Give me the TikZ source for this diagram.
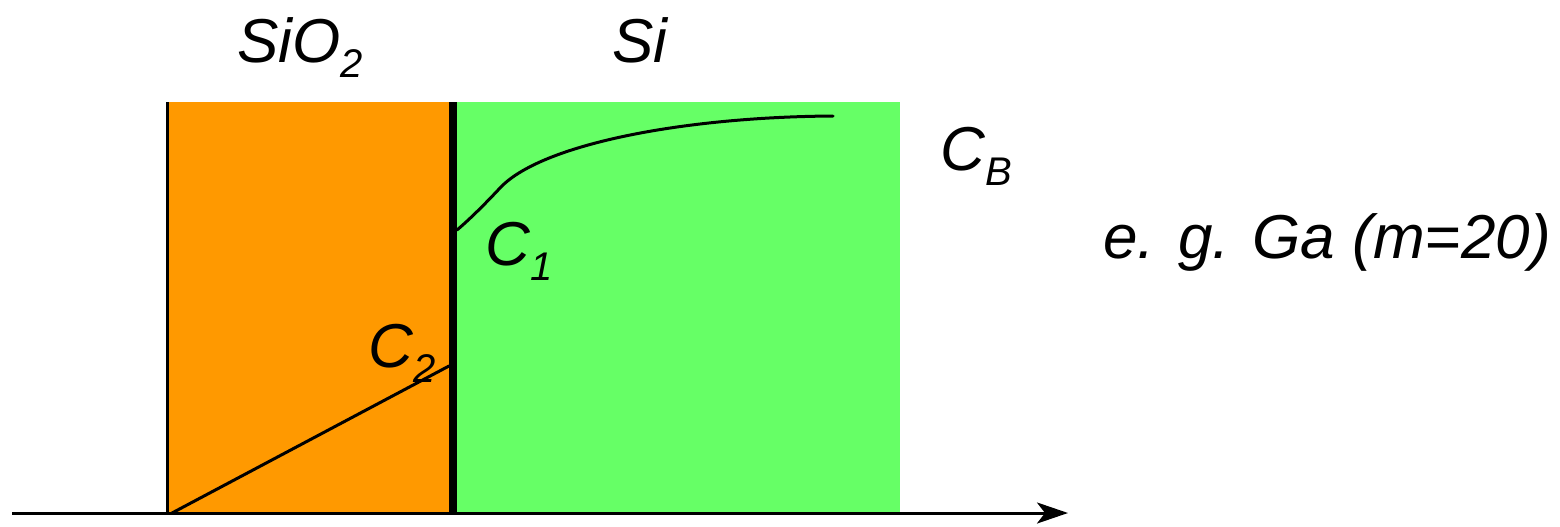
\documentclass[tikz,border=0pt]{standalone}
\usepackage{fontspec}
\setmainfont{Liberation Sans}
\usetikzlibrary{arrows.meta}
\definecolor{oxide}{HTML}{FF9900}
\definecolor{silicon}{HTML}{66FF66}
\newcommand{\mysub}[1]{\raisebox{-7.5pt}{\fontsize{20}{20}\selectfont #1}}
\tikzset{
  lbl/.style={anchor=base west, inner sep=0pt, font=\fontsize{31}{31}\selectfont\itshape},
  thin line/.style={line width=1.5pt, black},
  curve/.style={line width=1.5pt, black, line cap=round},
}
\begin{document}
\begin{tikzpicture}[x=0.5pt,y=-0.5pt]
\useasboundingbox (0,0) rectangle (1560,526);
% regions
\fill[oxide] (167,102) rectangle (449,513);
\fill[silicon] (457,102) rectangle (900,513);
\draw[thin line] (167,102) -- (167,513);
\fill[black] (449,102) rectangle (457,513);
% coordinates
\coordinate (axL) at (12,513);
\coordinate (axR) at (1068,513);
\coordinate (d0) at (172,513);
\coordinate (d1) at (449,366);
\coordinate (c0) at (457,230);
\coordinate (c1) at (500,188);
\coordinate (c2) at (833,116);
% axis
\draw[line width=1.5pt, -{Stealth[length=15.5pt,width=10.5pt,inset=4pt]}] (axL) -- (axR);
% profiles
\draw[curve] (d0) -- (d1);
\draw[curve] (c0) .. controls (470,219) and (485,204) .. (c1) .. controls (540,145) and (680,117) .. (c2);
% labels
\node[lbl] (sio2) at (237,62) {SiO\mysub{2}};
\node[lbl] (si) at (612,62) {Si};
\node[lbl] (cb) at (940,170) {C\mysub{B}};
\node[lbl] (c1l) at (485,265) {C\mysub{1}};
\node[lbl] (c2l) at (368,367) {C\mysub{2}};
\node[lbl] (eg) at (1103,258) {e. g. Ga (m=20)};
\end{tikzpicture}
\end{document}
